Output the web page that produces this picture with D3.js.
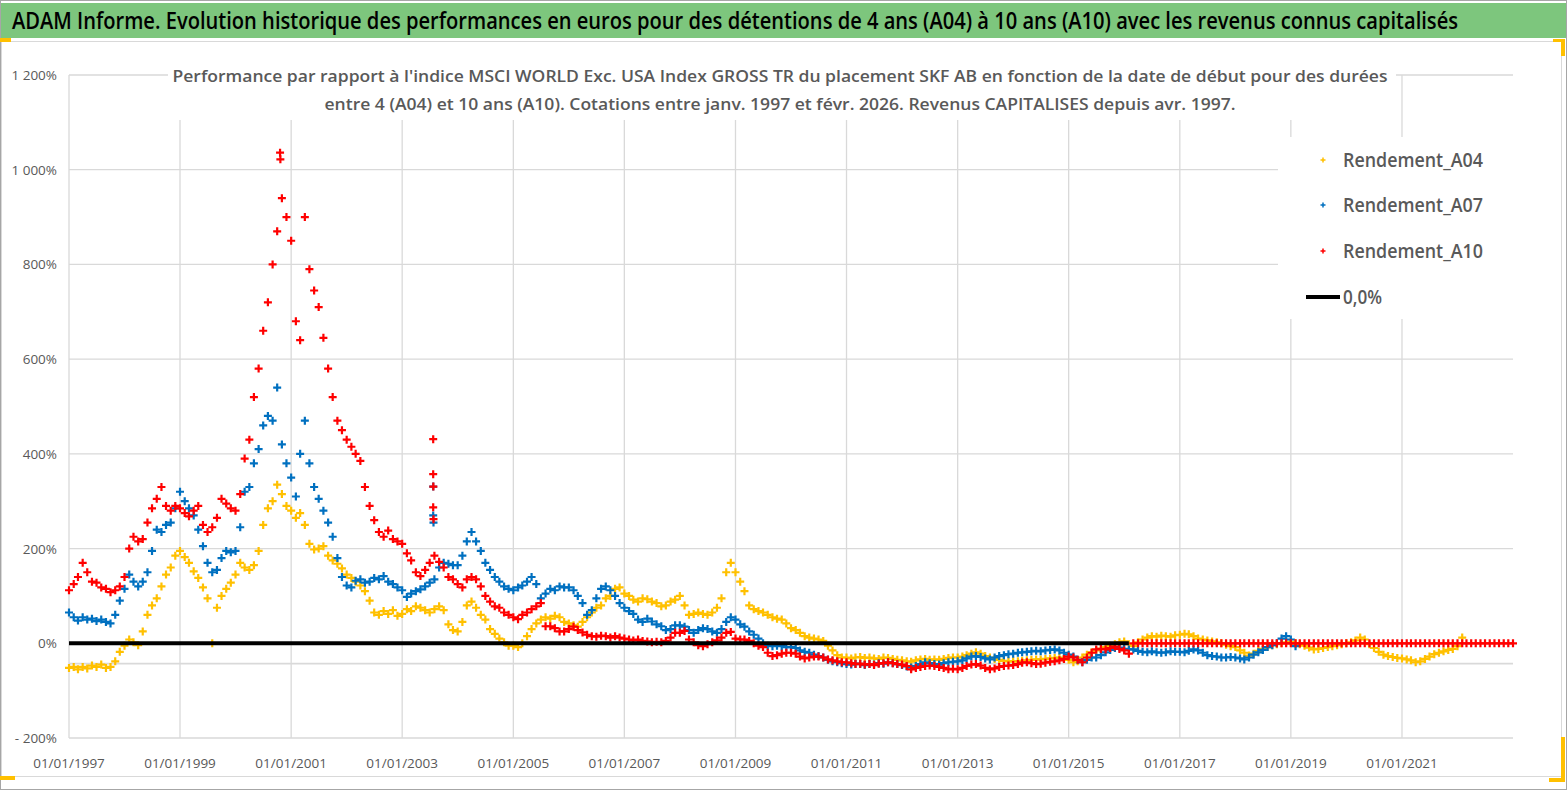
<!DOCTYPE html>
<html>
<head>
<meta charset="utf-8">
<script src="https://cdn.jsdelivr.net/npm/d3@7"></script>
<style>
  body { margin: 0; background: #fff; }
  svg { display: block; font-family: "Open Sans", "DejaVu Sans", sans-serif; }
</style>
</head>
<body>
<div id="app"></div>
<script>
// monthly readings (% vs index), first value = janv. 1997
var a04 = [
  -52,-50,-55,-50,-53,-47,-50,-45,-52,-50,-38,-18,   // 1997
  -5,8,2,-4,25,60,80,95,120,145,160,185,              // 1998
  195,182,170,152,138,118,95,0,75,100,115,128,        // 1999
  145,170,160,155,165,195,250,285,300,335,315,290,    // 2000
  280,265,275,250,210,198,200,205,185,175,168,158,    // 2001
  145,138,130,122,110,90,65,60,68,62,70,58,           // 2002
  62,72,68,78,75,70,65,72,78,70,40,28,                // 2003
  25,45,80,88,75,60,50,30,20,10,2,-5,                 // 2004
  -5,-8,0,15,30,42,50,55,52,58,55,45,                 // 2005
  42,38,35,45,55,65,75,80,95,100,115,118,             // 2006
  105,100,92,88,95,93,88,85,78,80,88,92,              // 2007
  100,80,60,62,65,62,60,65,75,95,150,170,             // 2008
  150,130,110,80,72,68,65,60,55,52,50,42,             // 2009
  32,28,22,15,12,10,8,5,-5,-15,-25,-30,               // 2010
  -30,-32,-30,-29,-31,-30,-32,-33,-30,-31,-33,-35,    // 2011
  -36,-38,-39,-36,-34,-33,-35,-34,-35,-33,-31,-30,    // 2012
  -30,-28,-25,-22,-19,-22,-27,-30,-33,-35,-37,-38,    // 2013
  -38,-38,-37,-36,-35,-34,-34,-33,-32,-31,-30,-32,    // 2014
  -35,-40,-38,-30,-24,-19,-15,-12,-8,-5,-2,2,         // 2015
  4,-2,-6,2,8,12,15,14,16,15,14,17,                   // 2016
  18,20,19,15,10,8,6,4,2,0,-3,-6,                     // 2017
  -8,-15,-20,-26,-22,-16,-12,-8,-4,-2,0,2,            // 2018
  3,0,-2,-5,-9,-13,-12,-10,-8,-6,-4,-2,               // 2019
  0,2,6,12,8,-2,-10,-18,-24,-27,-29,-31,              // 2020
  -32,-34,-36,-40,-38,-33,-28,-23,-20,-17,-14,-12,    // 2021
  -6,12                                               // 2022
];
var a07 = [
  65,55,48,55,50,52,47,50,45,42,60,90,                // 1997
  115,145,130,120,130,150,195,240,235,250,255,285,    // 1998
  320,300,285,270,240,205,170,150,155,180,195,192,    // 1999
  195,245,320,330,380,410,460,480,470,540,420,380,    // 2000
  350,310,400,470,380,330,305,280,255,225,180,140,    // 2001
  122,118,132,135,128,130,138,135,142,130,125,118,    // 2002
  112,98,105,110,114,120,128,135,160,170,168,165,     // 2003
  165,185,215,235,215,195,170,155,140,130,120,115,    // 2004
  112,118,122,130,140,125,95,105,115,112,120,118,     // 2005
  118,112,100,85,60,70,95,115,120,112,100,85,         // 2006
  75,68,62,50,45,52,46,40,36,28,30,38,                // 2007
  38,35,28,22,28,32,30,25,22,30,45,55,                // 2008
  50,40,35,25,18,10,0,-5,-6,-5,-6,-8,                 // 2009
  -8,-10,-15,-18,-20,-24,-27,-30,-35,-38,-40,-42,     // 2010
  -44,-45,-43,-44,-46,-44,-45,-42,-43,-40,-42,-44,    // 2011
  -46,-49,-51,-48,-44,-40,-42,-44,-45,-42,-40,-39,    // 2012
  -38,-36,-32,-28,-27,-29,-32,-34,-30,-27,-25,-23,    // 2013
  -22,-20,-19,-18,-17,-16,-17,-15,-14,-13,-15,-20,    // 2014
  -24,-28,-35,-40,-35,-30,-30,-25,-19,-14,-10,-9,     // 2015
  -12,-13,-13,-16,-18,-19,-17,-19,-20,-19,-17,-18,    // 2016
  -18,-19,-16,-13,-15,-20,-25,-27,-28,-30,-30,-29,    // 2017
  -30,-32,-34,-30,-24,-19,-14,-8,-4,0,10,15,          // 2018
  8,-6                                                // 2019
];
var a10 = [
  112,125,140,170,150,130,128,118,115,108,112,120,    // 1997
  140,200,225,215,220,255,285,305,330,290,280,290,    // 1998
  285,275,268,280,290,250,235,245,265,305,295,285,    // 1999
  280,315,390,430,520,580,660,720,800,870,940,900,    // 2000
  850,680,640,900,790,745,710,645,580,520,470,450,    // 2001
  430,415,400,385,330,290,260,235,225,238,220,215,    // 2002
  210,190,175,150,142,155,170,185,172,160,140,135,    // 2003
  125,118,135,140,135,120,100,88,78,75,65,60,         // 2004
  55,51,60,65,72,78,85,36,36,32,25,25,                // 2005
  30,35,28,23,18,15,14,16,15,12,15,12,                // 2006
  10,8,6,8,5,4,2,3,2,5,12,22,                         // 2007
  22,26,8,2,-4,-6,-2,2,6,12,22,24,                    // 2008
  10,8,8,5,0,-5,-8,-20,-27,-25,-22,-20,               // 2009
  -20,-22,-28,-32,-30,-28,-28,-30,-34,-36,-38,-40,    // 2010
  -40,-42,-44,-43,-45,-44,-46,-43,-42,-40,-42,-44,    // 2011
  -45,-48,-55,-52,-50,-48,-47,-48,-50,-52,-55,-54,    // 2012
  -55,-52,-48,-45,-44,-47,-52,-55,-53,-50,-48,-47,    // 2013
  -46,-44,-41,-40,-42,-44,-43,-41,-39,-38,-36,-33,    // 2014
  -28,-30,-35,-40,-30,-20,-13,-12,-13,-10,-7,-12,     // 2015
  -15,-22,0,0,0,0,0,0,0,0,0,0,                        // 2016
  0,0,0,0,0,0,0,0,0,0,0,0,                            // 2017
  0,0,0,0,0,0,0,0,0,0,0,0,                            // 2018
  0,0,0,0,0,0,0,0,0,0,0,0,                            // 2019
  0,0,0,0,0,0,0,0,0,0,0,0,                            // 2020
  0,0,0,0,0,0,0,0,0,0,0,0,                            // 2021
  0,0,0,0,0,0,0,0,0,0,0,0,                            // 2022
  0                                                   // 2023
];
// isolated spikes seen on the chart
var a07Spikes = [['2003-07-24', 331], ['2003-07-24', 270], ['2003-07-26', 255]];
var a10Spikes = [['2000-10-20', 1036], ['2000-10-22', 1022], ['2003-07-24', 431],
                 ['2003-07-24', 357], ['2003-07-25', 331], ['2003-07-24', 287], ['2003-07-26', 262]];
var zeroLine = ['1997-01-01', '2016-02-01'];

var seriesNames = ['Rendement_A04', 'Rendement_A07', 'Rendement_A10'];
var seriesColors = ['#FFC000', '#0070C0', '#FF0000'];

var yTicks = [-200, 0, 200, 400, 600, 800, 1000, 1200];
var yTickLabels = ['- 200%', '0%', '200%', '400%', '600%', '800%', '1 000%', '1 200%'];
var xTicks = ['1997-01-01','1999-01-01','2001-01-01','2003-01-01','2005-01-01','2007-01-01',
              '2009-01-01','2011-01-01','2013-01-01','2015-01-01','2017-01-01','2019-01-01','2021-01-01'];
var xTickLabels = ['01/01/1997','01/01/1999','01/01/2001','01/01/2003','01/01/2005','01/01/2007',
                   '01/01/2009','01/01/2011','01/01/2013','01/01/2015','01/01/2017','01/01/2019','01/01/2021'];
var xAxisCross = -43;

var width = 1567, height = 790,
    plotLeft = 69, plotRight = 1513, plotTop = 75, plotBottom = 738,
    grid = '#d9d9d9', textGrey = '#595959';

var parse = d3.timeParse('%Y-%m-%d');
var start = parse('1997-01-01');

var x = d3.scaleTime()
          .domain([start, parse('2023-01-01')])
          .range([plotLeft, plotRight]);
var y = d3.scaleLinear()
          .domain([-200, 1200])
          .range([plotBottom, plotTop]);

function monthly(values) {
  return values.map(function(v, i) { return { date: d3.timeMonth.offset(start, i), v: v }; });
}
function spikes(list) {
  return list.map(function(d) { return { date: parse(d[0]), v: d[1] }; });
}

var series = [
  monthly(a04),
  monthly(a07).concat(spikes(a07Spikes)),
  monthly(a10).concat(spikes(a10Spikes))
];

var svg = d3.select('#app').append('svg')
            .attr('width', width)
            .attr('height', height);

// frame + title banner
svg.append('rect')
   .attr('x', 0.5).attr('y', 0.5)
   .attr('width', width - 1).attr('height', height - 1)
   .attr('fill', '#fff').attr('stroke', '#a6a6a6');
svg.append('rect')
   .attr('x', 1).attr('y', 3)
   .attr('width', width - 2).attr('height', 35)
   .attr('fill', '#7DC67D');
svg.append('rect')
   .attr('x', 1.5).attr('y', 41.5)
   .attr('width', 1560).attr('height', 735)
   .attr('fill', '#fff').attr('stroke', '#d9d9d9');

svg.append('text')
   .attr('x', 735).attr('y', 29)
   .attr('text-anchor', 'middle')
   .attr('textLength', 1446).attr('lengthAdjust', 'spacingAndGlyphs')
   .style('font-size', '23px').style('font-weight', 600)
   .attr('fill', '#000')
   .text('ADAM Informe. Evolution historique des performances en euros pour des détentions de 4 ans (A04) à 10 ans (A10) avec les revenus connus capitalisés');

// gridlines
svg.append('g').selectAll('line').data(yTicks).join('line')
   .attr('x1', plotLeft).attr('x2', plotRight)
   .attr('y1', function(d) { return y(d); }).attr('y2', function(d) { return y(d); })
   .attr('stroke', grid).attr('stroke-width', 1.3);
svg.append('g').selectAll('line').data(xTicks).join('line')
   .attr('x1', function(d) { return x(parse(d)); }).attr('x2', function(d) { return x(parse(d)); })
   .attr('y1', plotTop).attr('y2', plotBottom)
   .attr('stroke', grid).attr('stroke-width', 1.3);
svg.append('line')
   .attr('x1', plotLeft).attr('x2', plotRight)
   .attr('y1', y(xAxisCross)).attr('y2', y(xAxisCross))
   .attr('stroke', grid).attr('stroke-width', 1.6);

// axis labels
svg.append('g').selectAll('text').data(yTicks).join('text')
   .attr('x', 57).attr('y', function(d) { return y(d) + 5; })
   .attr('text-anchor', 'end')
   .style('font-size', '13.5px').attr('fill', textGrey)
   .text(function(d, i) { return yTickLabels[i]; });
svg.append('g').selectAll('text').data(xTicks).join('text')
   .attr('x', function(d) { return x(parse(d)); }).attr('y', 768)
   .attr('text-anchor', 'middle')
   .style('font-size', '13.5px').attr('fill', textGrey)
   .text(function(d, i) { return xTickLabels[i]; });

// markers
var plus = 'M-4,0H4M0,-4V4';
series.forEach(function(data, k) {
  svg.append('g').selectAll('path').data(data).join('path')
     .attr('d', plus)
     .attr('transform', function(d) { return 'translate(' + x(d.date) + ',' + y(d.v) + ')'; })
     .attr('fill', 'none')
     .attr('stroke', seriesColors[k])
     .attr('stroke-width', 2.2);
});

// 0,0% line
svg.append('line')
   .attr('x1', x(parse(zeroLine[0]))).attr('x2', x(parse(zeroLine[1])))
   .attr('y1', y(0)).attr('y2', y(0))
   .attr('stroke', '#000').attr('stroke-width', 4);

// subtitle box
svg.append('rect')
   .attr('x', 168).attr('y', 58).attr('width', 1228).attr('height', 62)
   .attr('fill', '#fff');
svg.append('text')
   .attr('x', 780).attr('y', 82)
   .attr('text-anchor', 'middle')
   .attr('textLength', 1215).attr('lengthAdjust', 'spacingAndGlyphs')
   .style('font-size', '17px').style('font-weight', 600).attr('fill', textGrey)
   .text("Performance par rapport à l'indice MSCI WORLD Exc. USA Index GROSS TR  du placement SKF AB en fonction de la date de début pour des durées");
svg.append('text')
   .attr('x', 780).attr('y', 110)
   .attr('text-anchor', 'middle')
   .attr('textLength', 911).attr('lengthAdjust', 'spacingAndGlyphs')
   .style('font-size', '17px').style('font-weight', 600).attr('fill', textGrey)
   .text('entre 4 (A04) et 10 ans (A10). Cotations entre janv. 1997 et févr. 2026. Revenus CAPITALISES depuis avr. 1997.');

// legend
var legend = svg.append('g');
legend.append('rect')
      .attr('x', 1278).attr('y', 137).attr('width', 236).attr('height', 182)
      .attr('fill', '#fff');
var rows = [160, 205, 251];
seriesNames.forEach(function(name, k) {
  legend.append('path')
        .attr('d', 'M-2.5,0H2.5M0,-2.5V2.5')
        .attr('transform', 'translate(1323,' + rows[k] + ')')
        .attr('stroke', seriesColors[k]).attr('stroke-width', 1.5);
  legend.append('text')
        .attr('x', 1343).attr('y', rows[k] + 7)
        .attr('textLength', 140).attr('lengthAdjust', 'spacingAndGlyphs')
        .style('font-size', '20px').style('font-weight', 600).attr('fill', textGrey)
        .text(name);
});
legend.append('line')
      .attr('x1', 1306).attr('x2', 1340).attr('y1', 297).attr('y2', 297)
      .attr('stroke', '#000').attr('stroke-width', 4);
legend.append('text')
      .attr('x', 1343).attr('y', 304)
      .attr('textLength', 39).attr('lengthAdjust', 'spacingAndGlyphs')
      .style('font-size', '20px').style('font-weight', 600).attr('fill', textGrey)
      .text('0,0%');

// selection handles
var handles = [[0, 38, 11, 4], [0, 776, 15, 4], [1553, 39, 12, 3], [1561, 39, 4, 17],
               [1561, 737, 4, 45], [1549, 778, 16, 4]];
svg.append('g').selectAll('rect').data(handles).join('rect')
   .attr('x', function(d) { return d[0]; }).attr('y', function(d) { return d[1]; })
   .attr('width', function(d) { return d[2]; }).attr('height', function(d) { return d[3]; })
   .attr('fill', '#FFC000');
</script>
</body>
</html>
